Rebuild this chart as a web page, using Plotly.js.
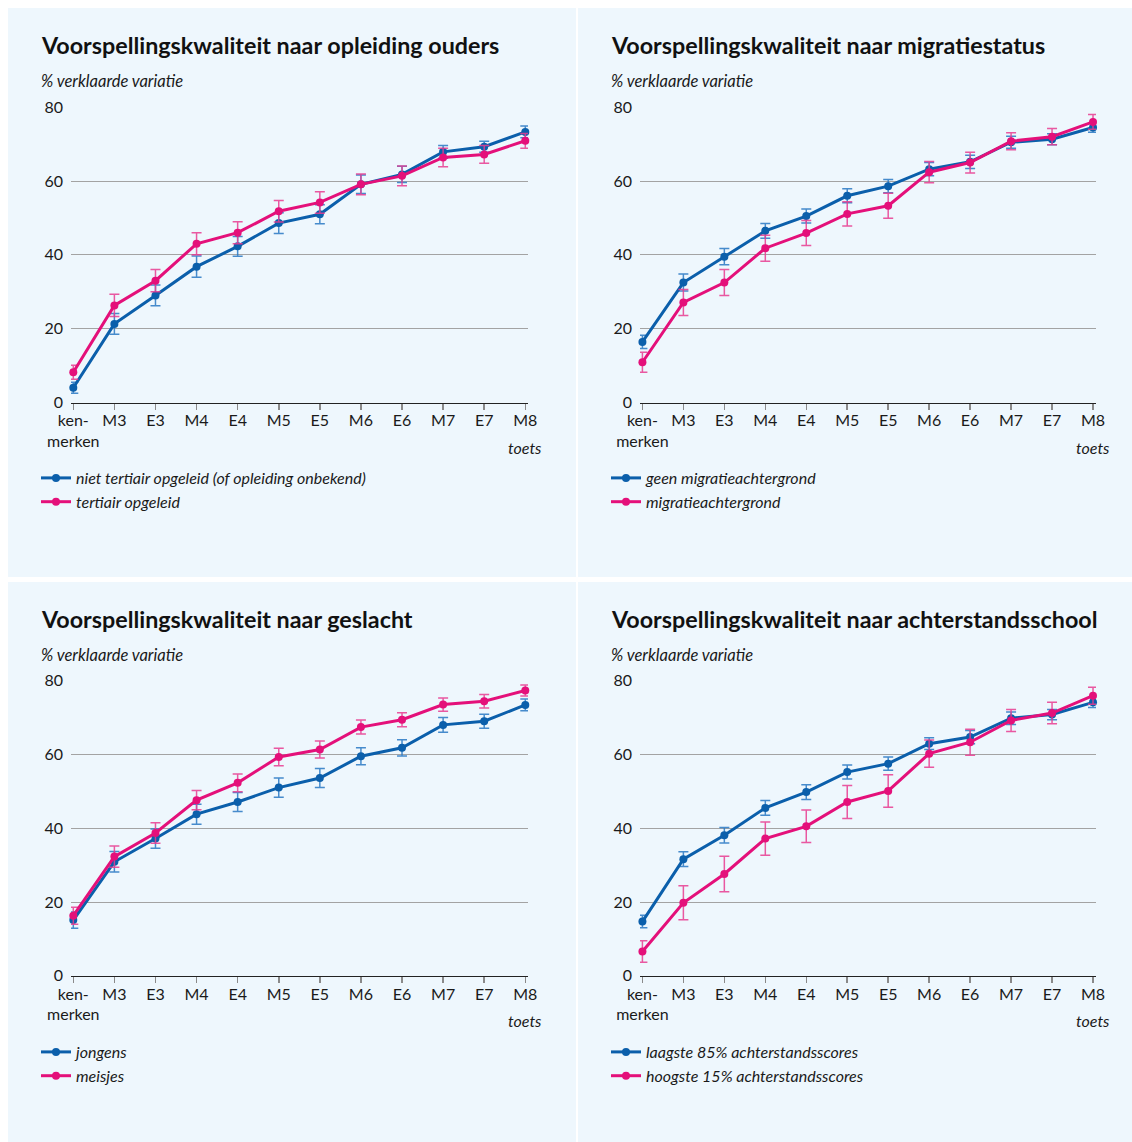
<!DOCTYPE html>
<html>
<head>
<meta charset="utf-8">
<script src="https://cdn.plot.ly/plotly-3.0.1.min.js"></script>
<style>
  html, body { margin: 0; padding: 0; background: #ffffff; }
  #chart { width: 1132px; height: 1142px; }
</style>
</head>
<body>
<div id="chart"></div>
<script>
// Test moments (x categories) and their displayed labels
const categories = ['kenmerken', 'M3', 'E3', 'M4', 'E4', 'M5', 'E5', 'M6', 'E6', 'M7', 'E7', 'M8'];
const tickLabels = ['ken-<br>merken', 'M3', 'E3', 'M4', 'E4', 'M5', 'E5', 'M6', 'E6', 'M7', 'E7', 'M8'];
const yTicks = [0, 20, 40, 60, 80];

// Panel 1: opleiding ouders
const opleidingNiet = [4.0, 21.3, 29.0, 36.8, 42.3, 48.6, 51.0, 59.1, 61.8, 67.9, 69.3, 73.3];
const opleidingNietErr = [1.5, 2.8, 2.8, 2.9, 2.7, 2.8, 2.6, 2.5, 2.2, 1.7, 1.5, 1.6];
const opleidingTert = [8.2, 26.3, 33.0, 43.0, 46.0, 51.8, 54.2, 59.1, 61.4, 66.4, 67.2, 70.9];
const opleidingTertErr = [1.9, 3.0, 3.0, 3.0, 3.0, 2.9, 2.9, 2.8, 2.7, 2.5, 2.4, 2.0];

// Panel 2: migratiestatus
const migratieGeen = [16.4, 32.5, 39.5, 46.5, 50.5, 56.0, 58.6, 63.2, 65.2, 70.5, 71.3, 74.5];
const migratieGeenErr = [1.8, 2.3, 2.2, 2.0, 1.9, 1.9, 1.8, 1.8, 1.8, 1.6, 1.5, 1.3];
const migratieWel = [10.9, 27.1, 32.5, 41.8, 45.9, 51.1, 53.3, 62.4, 65.0, 70.8, 72.0, 76.0];
const migratieWelErr = [2.7, 3.5, 3.5, 3.5, 3.4, 3.3, 3.4, 2.9, 2.8, 2.3, 2.2, 2.0];

// Panel 3: geslacht
const jongens = [15.1, 30.9, 37.2, 43.8, 47.1, 51.0, 53.6, 59.5, 61.8, 68.0, 69.0, 73.4];
const jongensErr = [2.2, 2.8, 2.6, 2.7, 2.6, 2.6, 2.6, 2.3, 2.2, 2.0, 1.9, 1.6];
const meisjes = [16.3, 32.3, 38.7, 47.6, 52.3, 59.3, 61.3, 67.4, 69.4, 73.5, 74.4, 77.3];
const meisjesErr = [2.3, 2.9, 2.8, 2.6, 2.4, 2.4, 2.3, 1.9, 1.9, 1.8, 1.8, 1.5];

// Panel 4: achterstandsschool
const laagste85 = [14.7, 31.6, 38.1, 45.5, 49.8, 55.2, 57.5, 62.9, 64.7, 69.8, 70.8, 74.1];
const laagste85Err = [1.7, 2.0, 2.1, 2.0, 2.0, 1.9, 1.8, 1.6, 1.8, 1.7, 1.4, 1.4];
const hoogste15 = [6.6, 19.8, 27.6, 37.2, 40.5, 47.1, 50.1, 60.2, 63.3, 69.2, 71.2, 75.9];
const hoogste15Err = [2.9, 4.6, 4.8, 4.5, 4.4, 4.5, 4.4, 3.7, 3.5, 3.0, 2.9, 2.3];

const panelTitles = [
  'Voorspellingskwaliteit naar opleiding ouders',
  'Voorspellingskwaliteit naar migratiestatus',
  'Voorspellingskwaliteit naar geslacht',
  'Voorspellingskwaliteit naar achterstandsschool'
];
const yTitle = '% verklaarde variatie';
const xTitle = 'toets';

const seriesNames = [
  ['niet tertiair opgeleid (of opleiding onbekend)', 'tertiair opgeleid'],
  ['geen migratieachtergrond', 'migratieachtergrond'],
  ['jongens', 'meisjes'],
  ['laagste 85% achterstandsscores', 'hoogste 15% achterstandsscores']
];
const seriesData = [
  [[opleidingNiet, opleidingNietErr], [opleidingTert, opleidingTertErr]],
  [[migratieGeen, migratieGeenErr], [migratieWel, migratieWelErr]],
  [[jongens, jongensErr], [meisjes, meisjesErr]],
  [[laagste85, laagste85Err], [hoogste15, hoogste15Err]]
];

const W = 1132, H = 1142;
const BLUE = '#0b5fab';
const PINK = '#e4107a';
const BLUE_ERR = 'rgba(40,120,195,0.85)';
const PINK_ERR = 'rgba(232,60,145,0.85)';
const PANEL_BG = '#eef7fd';
const TEXT = '#1a1a1a';
const FONT = 'Lato, "Noto Sans", sans-serif';

const px = v => v / W;
const py = v => 1 - v / H;

// panel geometry in pixels
const panels = [
  { bx0: 8,   bx1: 576,  by0: 8,   by1: 577,  dx0: 71,  dx1: 528,  ylo: 402.5, yhi: 107.2, r0: -0.056, r1: 11.066, tx: 42 },
  { bx0: 578, bx1: 1132, by0: 8,   by1: 577,  dx0: 640, dx1: 1096, ylo: 402.5, yhi: 107.2, r0: -0.059, r1: 11.073, tx: 612 },
  { bx0: 8,   bx1: 576,  by0: 582, by1: 1142, dx0: 71,  dx1: 528,  ylo: 975.8, yhi: 680.6, r0: -0.056, r1: 11.066, tx: 42 },
  { bx0: 578, bx1: 1132, by0: 582, by1: 1142, dx0: 640, dx1: 1096, ylo: 975.8, yhi: 680.6, r0: -0.059, r1: 11.073, tx: 612 }
];

const traces = [];
const layout = {
  width: W, height: H,
  margin: { l: 0, r: 0, t: 0, b: 0, pad: 0 },
  paper_bgcolor: '#ffffff',
  plot_bgcolor: 'rgba(0,0,0,0)',
  font: { family: FONT, color: TEXT, size: 15 },
  showlegend: true,
  shapes: [],
  annotations: []
};

panels.forEach((p, i) => {
  const n = i === 0 ? '' : String(i + 1);
  const top = p.by0;
  const colors = [[BLUE, BLUE_ERR], [PINK, PINK_ERR]];
  const legendId = 'legend' + n;

  seriesData[i].forEach((s, j) => {
    traces.push({
      type: 'scatter',
      mode: 'lines+markers',
      x: categories,
      y: s[0],
      name: seriesNames[i][j],
      xaxis: 'x' + n,
      yaxis: 'y' + n,
      legend: legendId,
      legendgroup: 'g' + i + j,
      line: { color: colors[j][0], width: 3 },
      marker: { color: colors[j][0], size: 8 },
      error_y: { type: 'data', array: s[1], visible: true, color: colors[j][1], thickness: 1.5, width: 5 },
      cliponaxis: false,
      hoverinfo: 'skip'
    });
  });

  layout['xaxis' + n] = {
    domain: [px(p.dx0), px(p.dx1)],
    anchor: 'y' + n,
    type: 'category',
    categoryorder: 'array',
    categoryarray: categories,
    range: [p.r0, p.r1],
    tickvals: categories,
    ticktext: tickLabels,
    ticks: 'outside',
    ticklen: 6,
    tickwidth: 1.5,
    tickcolor: '#8a8a8a',
    ticklabelstandoff: -3,
    showline: true,
    linecolor: '#222222',
    linewidth: 1.5,
    showgrid: false,
    zeroline: false,
    tickfont: { family: FONT, size: 16, color: TEXT },
    fixedrange: true
  };
  layout['yaxis' + n] = {
    domain: [py(p.ylo), py(p.yhi)],
    anchor: 'x' + n,
    range: [0, 80],
    tickvals: yTicks,
    ticks: '',
    ticklabelstandoff: 7,
    showline: false,
    showgrid: true,
    gridcolor: '#a3a3a3',
    gridwidth: 1,
    zeroline: false,
    tickfont: { family: FONT, size: 16, color: TEXT },
    fixedrange: true
  };

  layout[legendId] = {
    x: px(p.tx - 6),
    y: py(top + 453),
    xanchor: 'left',
    yanchor: 'top',
    bgcolor: 'rgba(0,0,0,0)',
    borderwidth: 0,
    tracegroupgap: 0,
    font: { family: FONT, size: 16, color: TEXT, style: 'italic' }
  };

  layout.shapes.push({
    type: 'rect', xref: 'paper', yref: 'paper', layer: 'below',
    x0: px(p.bx0), x1: px(p.bx1), y0: py(p.by1), y1: py(p.by0),
    fillcolor: PANEL_BG, line: { width: 0 }
  });

  layout.annotations.push({
    xref: 'paper', yref: 'paper', x: px(p.tx - 3), y: py(top + 37),
    xanchor: 'left', yanchor: 'middle', showarrow: false,
    text: '<b>' + panelTitles[i] + '</b>',
    font: { family: FONT, size: 23.3, color: '#111111' }
  });
  layout.annotations.push({
    xref: 'paper', yref: 'paper', x: px(p.tx - 3), y: py(top + 73),
    xanchor: 'left', yanchor: 'middle', showarrow: false,
    text: yTitle,
    font: { family: FONT, size: 16.5, color: TEXT, style: 'italic' }
  });
  layout.annotations.push({
    xref: 'paper', yref: 'paper', x: px(p.dx1 + 16), y: py(p.ylo + 45),
    xanchor: 'right', yanchor: 'middle', showarrow: false,
    text: xTitle,
    font: { family: FONT, size: 16, color: TEXT, style: 'italic' }
  });
});

Plotly.newPlot('chart', traces, layout, { displayModeBar: false, staticPlot: true });
</script>
</body>
</html>
